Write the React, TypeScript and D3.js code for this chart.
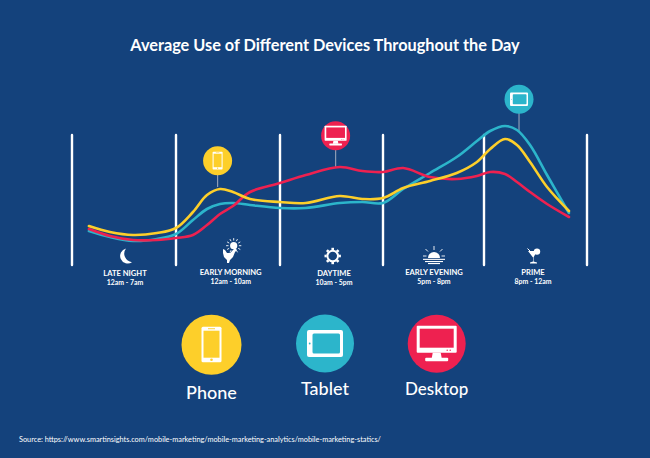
import React from "react";
import * as d3 from "d3";

const titleText = "Average Use of Different Devices Throughout the Day";
const sourceText =
  "Source: https://www.smartinsights.com/mobile-marketing/mobile-marketing-analytics/mobile-marketing-statics/";

// position along the day, 1 unit = one period column
const dayPos = [
  0.163, 0.365, 0.587, 0.817, 1.0, 1.163, 1.298, 1.423, 1.548, 1.712, 2.0, 2.25, 2.58,
  2.8, 3.0, 3.2, 3.465, 3.73, 3.93, 4.06, 4.204, 4.32, 4.447, 4.612, 4.825,
];
const phoneUse = [
  39, 33, 30, 32, 37, 53, 70, 76, 73, 66, 63, 62, 69, 66, 67, 77, 84, 92, 103,
  116, 126, 120, 103, 78, 54,
];
const tabletUse = [
  34, 28, 24, 26, 31, 45, 56, 61, 62, 60, 57, 57, 62, 63, 62, 76, 92, 108, 124,
  134, 139, 135, 120, 90, 52,
];
const desktopUse = [
  36, 29, 25, 25, 27, 30, 40, 51, 59, 73, 82, 90, 98, 94, 93, 97, 88, 86, 89,
  93, 91, 83, 73, 61, 48,
];

const periods = ["LATE NIGHT", "EARLY MORNING", "DAYTIME", "EARLY EVENING", "PRIME"];
const periodHours = ["12am - 7am", "12am - 10am", "10am - 5pm", "5pm - 8pm", "8pm - 12am"];
const dividers = [0, 1, 2, 3, 4, 5];

const BG = "#14427c";
const YELLOW = "#fdcf2a";
const CYAN = "#2cb5cb";
const RED = "#ee2150";
const FONT = "Lato, sans-serif";

const x = d3.scaleLinear().domain(dividers).range([72, 176, 280, 383, 484, 587]);
const y = d3.scaleLinear().domain([0, 130]).range([265, 135]);

const line = d3
  .line<number>()
  .x((_, i) => x(dayPos[i]))
  .y((d) => y(d))
  .curve(d3.curveCatmullRom.alpha(0.5));

const PhoneIcon = ({ s = 1 }: { s?: number }) => (
  <g transform={`scale(${s})`}>
    <rect x={-10} y={-18} width={20} height={35.5} rx={1.5} fill="#fff" />
    <rect x={-8} y={-14} width={16} height={27} fill={YELLOW} />
    <circle cx={0} cy={15} r={1.3} fill={YELLOW} />
    <rect x={-3.5} y={-16.4} width={7} height={0.9} fill={YELLOW} />
  </g>
);

const TabletIcon = ({ s = 1 }: { s?: number }) => (
  <g transform={`scale(${s})`}>
    <rect x={-18} y={-13.5} width={36} height={27} rx={2} fill="#fff" />
    <rect x={-12.5} y={-10} width={27.5} height={20} rx={1.5} fill={CYAN} />
    <circle cx={-15.3} cy={0} r={0.9} fill={CYAN} />
  </g>
);

const DesktopIcon = ({ s = 1 }: { s?: number }) => (
  <g transform={`scale(${s})`}>
    <rect x={-20} y={-18} width={40} height={27} rx={1} fill="#fff" />
    <rect x={-17} y={-15} width={34} height={19} fill={RED} />
    <path d="M -4 9 L 4 9 L 5 14.5 L -5 14.5 Z" fill="#fff" />
    <rect x={-11.5} y={14} width={23} height={3.6} rx={1} fill="#fff" />
    <circle cx={10.5} cy={6.6} r={0.7} fill={RED} />
    <circle cx={13.5} cy={6.6} r={0.7} fill={RED} />
  </g>
);

const MoonIcon = () => (
  <path d="M 1 -7.5 A 7.6 7.6 0 1 0 7 6.2 A 8.6 8.6 0 0 1 1 -7.5 Z" fill="#fff" />
);

const rays = (n: number) => d3.range(n).map((i) => (i * 2 * Math.PI) / n);

const SunRoosterIcon = () => (
  <g fill="#fff" stroke="none">
    <circle cx={3.7} cy={-6.3} r={3.6} />
    {rays(12).map((a) => (
      <line
        key={a}
        x1={3.7 + 5.2 * Math.cos(a)}
        y1={-6.3 + 5.2 * Math.sin(a)}
        x2={3.7 + 7.6 * Math.cos(a)}
        y2={-6.3 + 7.6 * Math.sin(a)}
        stroke="#fff"
        strokeWidth={0.9}
      />
    ))}
    <path d="M -7 -3 L -5 -2 L -3 1 L 0 1 L 3 -2 L 5 -4 L 7 -2 L 5 0 L 3 5 L 0 8 L -1 11 L -3 11 L -3 8 L -6 5 L -7 1 Z" />
  </g>
);

const GearIcon = () => (
  <g>
    <circle r={5.3} fill="none" stroke="#fff" strokeWidth={2} />
    {rays(8).map((a) => (
      <line
        key={a}
        x1={6 * Math.cos(a)}
        y1={6 * Math.sin(a)}
        x2={8.2 * Math.cos(a)}
        y2={8.2 * Math.sin(a)}
        stroke="#fff"
        strokeWidth={2.6}
      />
    ))}
  </g>
);

const SunsetIcon = () => (
  <g fill="#fff">
    <path d="M -6 0 A 6 6 0 0 1 6 0 Z" />
    <line x1={0} y1={-12} x2={0} y2={-8} stroke="#fff" strokeWidth={0.9} />
    <line x1={-8.5} y1={-9} x2={-6} y2={-6.5} stroke="#fff" strokeWidth={0.9} />
    <line x1={8.5} y1={-9} x2={6} y2={-6.5} stroke="#fff" strokeWidth={0.9} />
    <rect x={-11} y={0.8} width={22} height={1.1} />
    <rect x={-9} y={3} width={18} height={1.1} />
    <rect x={-6} y={5} width={12} height={1.1} />
    <line x1={-11} y1={-2} x2={-7.5} y2={-2} stroke="#fff" strokeWidth={0.9} />
    <line x1={7.5} y1={-2} x2={11} y2={-2} stroke="#fff" strokeWidth={0.9} />
  </g>
);

const CocktailIcon = () => (
  <g fill="#fff">
    <path d="M -6 -5 L 3 -5 L -0.5 1.5 L -0.5 5.6 L 3 6.6 L 3 7.4 L -4 7.4 L -4 6.6 L -1 5.6 L -1 1.5 Z" />
    <circle cx={3} cy={-4.4} r={3.2} />
    <line x1={-6.5} y1={-7.5} x2={-3} y2={-4} stroke="#fff" strokeWidth={1} />
  </g>
);

const periodIcons = [
  { Icon: MoonIcon, cx: 125, cy: 256 },
  { Icon: SunRoosterIcon, cx: 230, cy: 252 },
  { Icon: GearIcon, cx: 332.7, cy: 256 },
  { Icon: SunsetIcon, cx: 434, cy: 258 },
  { Icon: CocktailIcon, cx: 534, cy: 256 },
];
const periodTextX = [125, 230.7, 334, 434, 533];
const periodTextY = [276, 275, 276, 275, 275];

const pins = [
  { cx: 1.4, cy: 160.7, tip: 187, color: YELLOW, Icon: PhoneIcon, s: 0.5 },
  { cx: 2.54, cy: 135.7, tip: 167, color: RED, Icon: DesktopIcon, s: 0.55 },
  { cx: 4.34, cy: 99.3, tip: 131, color: CYAN, Icon: TabletIcon, s: 0.5 },
];

const legend = [
  { name: "Phone", cx: 211.5, cy: 344.7, r: 30, ty: 398.5, fs: 18, color: YELLOW, Icon: PhoneIcon },
  { name: "Tablet", cx: 325, cy: 343.5, r: 29, ty: 395, fs: 18, color: CYAN, Icon: TabletIcon },
  { name: "Desktop", cx: 436.7, cy: 343.7, r: 29, ty: 395, fs: 17, color: RED, Icon: DesktopIcon },
];

export default function App() {
  return (
    <svg
      width={650}
      height={458}
      style={{ position: "fixed", left: 0, top: 0, background: BG, fontFamily: FONT }}
    >
      <rect width={650} height={458} fill={BG} />
      <text x={325} y={51} textAnchor="middle" fill="#fff" fontSize={16.3} fontWeight={700}>
        {titleText}
      </text>

      {dividers.map((d) => (
        <line
          key={d}
          x1={x(d)}
          x2={x(d)}
          y1={y(0)}
          y2={y(130)}
          stroke="#fff"
          strokeWidth={2.4}
          strokeLinecap="round"
        />
      ))}

      {pins.map((p) => (
        <g key={p.color}>
          <line x1={x(p.cx)} x2={x(p.cx)} y1={p.cy} y2={p.tip} stroke="#8d9db5" strokeWidth={1.2} />
          <circle cx={x(p.cx)} cy={p.cy} r={14.5} fill={p.color} />
          <g transform={`translate(${x(p.cx)},${p.cy})`}>
            <p.Icon s={p.s} />
          </g>
        </g>
      ))}

      <path d={line(tabletUse) ?? ""} fill="none" stroke={CYAN} strokeWidth={2.6} strokeLinecap="round" />
      <path d={line(desktopUse) ?? ""} fill="none" stroke={RED} strokeWidth={2.6} strokeLinecap="round" />
      <path d={line(phoneUse) ?? ""} fill="none" stroke={YELLOW} strokeWidth={2.6} strokeLinecap="round" />

      {periods.map((name, i) => {
        const { Icon, cx, cy } = periodIcons[i];
        return (
          <g key={name}>
            <g transform={`translate(${cx},${cy})`}>
              <Icon />
            </g>
            <text x={periodTextX[i]} y={periodTextY[i]} textAnchor="middle" fill="#fff" fontSize={7.6} fontWeight={700}>
              {name}
            </text>
            <text x={periodTextX[i]} y={periodTextY[i] + 9} textAnchor="middle" fill="#fff" fontSize={6.9} fontWeight={700}>
              {periodHours[i]}
            </text>
          </g>
        );
      })}

      {legend.map((l) => (
        <g key={l.name}>
          <circle cx={l.cx} cy={l.cy} r={l.r} fill={l.color} />
          <g transform={`translate(${l.cx},${l.cy})`}>
            <l.Icon />
          </g>
          <text x={l.cx} y={l.ty} textAnchor="middle" fill="#fff" fontSize={l.fs} fontWeight={500}>
            {l.name}
          </text>
        </g>
      ))}

      <text x={19} y={442} fill="#fff" fontSize={7.33} fontWeight={400}>
        {sourceText}
      </text>
    </svg>
  );
}
